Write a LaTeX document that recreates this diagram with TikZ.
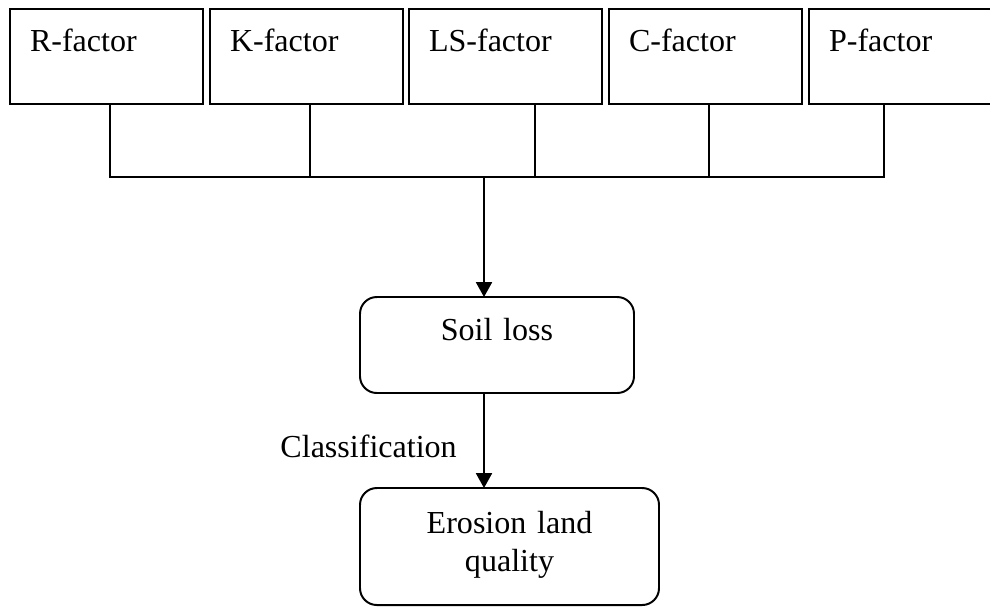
\documentclass[tikz,border=0pt]{standalone}
\usepackage{fontspec}
\setmainfont{Liberation Serif}
\usetikzlibrary{positioning}
\usetikzlibrary{arrows.meta}

\tikzset{
  factorbox/.style={draw, line width=1.4pt, rectangle, anchor=north west,
    inner xsep=0.5cm, inner ysep=0pt, outer sep=0pt,
    text width=3.825cm, align=left,
    text height=1.05cm, text depth=1.325cm},
  resultbox/.style={draw, line width=1.4pt, rounded corners=0.42cm,
    anchor=north, inner sep=0pt, outer sep=0pt, align=center},
  link/.style={line width=1.2pt},
  flow/.style={line width=1.2pt, -{Triangle[length=0.37cm,width=0.4cm]}},
}

\begin{document}
\begin{tikzpicture}[font=\fontsize{22.8}{27.3}\selectfont]

  \clip (0,0) rectangle (24.75,-15.2);

  % the five USLE factors
  \node[factorbox] (rf)  at (0.25,   -0.225) {R-factor};
  \node[factorbox] (kf)  at (5.25,   -0.225) {K-factor};
  \node[factorbox] (lsf) at (10.225, -0.225) {LS-factor};
  \node[factorbox] (cf)  at (15.225, -0.225) {C-factor};
  \node[factorbox] (pf)  at (20.225, -0.225) {P-factor};

  % soil loss and its classes
  \node[resultbox, text width=6.85cm, text height=1.075cm, text depth=1.325cm]
    (soil) at (12.425, -7.425) {Soil loss};
  \node[resultbox, text width=7.475cm, text height=1.125cm, text depth=1.8cm]
    (quality) at (12.7375, -12.2) {Erosion land\\quality};

  % points where the factors meet the bus line
  \coordinate (busR)  at (2.75,   -4.425);
  \coordinate (busK)  at (7.75,   -4.425);
  \coordinate (busLS) at (13.375, -4.425);
  \coordinate (busC)  at (17.725, -4.425);
  \coordinate (busP)  at (22.1,   -4.425);
  \coordinate (busM)  at (12.1,   -4.425);

  \draw[link] (rf.south -| busR)   -- (busR) -- (busP) -- (pf.south -| busP);
  \draw[link] (kf.south -| busK)   -- (busK);
  \draw[link] (lsf.south -| busLS) -- (busLS);
  \draw[link] (cf.south -| busC)   -- (busC);

  % down to soil loss, then classification
  \draw[flow] (busM) -- (soil.north -| busM);
  \draw[flow] (soil.south -| busM) -- (quality.north -| busM)
    coordinate[pos=0.675] (cls);
  \node[anchor=base east, inner sep=0pt] (clslabel) at ([xshift=-0.675cm]cls)
    {Classification};

\end{tikzpicture}
\end{document}
